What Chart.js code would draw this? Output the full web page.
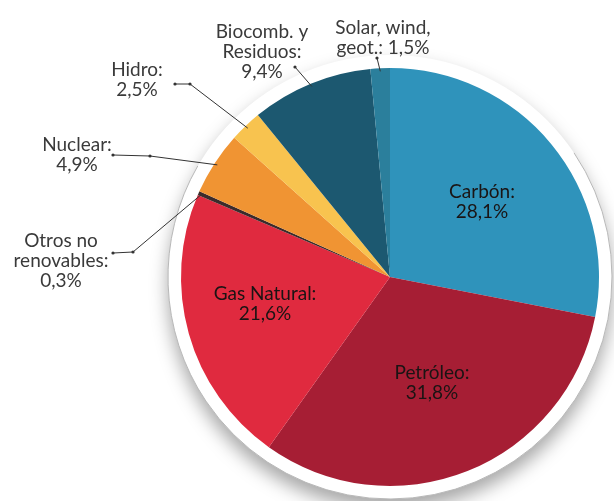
<!DOCTYPE html>
<html>
<head>
<meta charset="utf-8">
<script src="https://cdn.jsdelivr.net/npm/chart.js@4"></script>
<style>
  html, body { margin: 0; padding: 0; background: #fff; }
  #wrap { width: 614px; height: 501px; }
</style>
</head>
<body>
<div id="wrap"><canvas id="energyPie" width="614" height="501"></canvas></div>
<script>
// ── DATA ──
const categories = ['Carbón', 'Petróleo', 'Gas Natural', 'Otros no renovables', 'Nuclear', 'Hidro', 'Biocomb. y Residuos', 'Solar, wind, geot.'];
const shares     = [28.1, 31.8, 21.6, 0.3, 4.9, 2.5, 9.4, 1.5];
const nameLines  = [['Carbón:'], ['Petróleo:'], ['Gas Natural:'], ['Otros no', 'renovables:'], ['Nuclear:'], ['Hidro:'], ['Biocomb. y', 'Residuos:'], ['Solar, wind,', 'geot.:']];
const pctInline  = [false, false, false, false, false, false, false, true];

// ── STYLE ──
const sliceColors = ['#2f93bb', '#a61e34', '#e02a3f', '#3b2b2b', '#f09433', '#f8c34f', '#1c5870', '#2b7f9c'];

// label placement (text centre of first line, elbow dots of leader)
const labelLayout = [
  { x: 482, y: 192, inside: true },
  { x: 432, y: 373, inside: true },
  { x: 265, y: 294, inside: true },
  { x: 61,  y: 241, dots: [[113, 253], [133, 252]] },
  { x: 77,  y: 145, dots: [[113, 155], [150, 156]] },
  { x: 137, y: 70,  dots: [[175, 84], [190, 84]] },
  { x: 262, y: 32,  dots: [[295, 67]] },
  { x: 383, y: 28,  dots: [[377, 58]] },
];

const fmtPct = v => v.toFixed(1).replace('.', ',') + '%';

function labelTextFor(i) {
  const lines = nameLines[i].slice();
  if (pctInline[i]) lines[lines.length - 1] += ' ' + fmtPct(shares[i]);
  else lines.push(fmtPct(shares[i]));
  return lines;
}

// ── BACKING DISC WITH SHADOW ──
const discPlugin = {
  id: 'disc',
  beforeDatasetsDraw(chart) {
    const arc = chart.getDatasetMeta(0).data[0];
    if (!arc) return;
    const { x, y, outerRadius } = arc.getProps(['x', 'y', 'outerRadius'], true);
    const R = outerRadius + 13;
    const ctx = chart.ctx;
    ctx.save();
    ctx.shadowColor = 'rgba(0,0,0,0.35)';
    ctx.shadowBlur = 18;
    ctx.shadowOffsetY = 10;
    ctx.fillStyle = '#fff';
    ctx.beginPath();
    ctx.arc(x, y, R, 0, Math.PI * 2);
    ctx.fill();
    ctx.restore();

    ctx.save();
    ctx.strokeStyle = '#b8b8b8';
    ctx.lineWidth = 1;
    ctx.beginPath();
    ctx.arc(x, y, R, -34 * Math.PI / 180, 210 * Math.PI / 180);
    ctx.stroke();
    ctx.restore();
  }
};

// ── LABELS + LEADERS ──
const labelPlugin = {
  id: 'sliceLabels',
  afterDatasetsDraw(chart) {
    const ctx = chart.ctx;
    const meta = chart.getDatasetMeta(0);
    ctx.save();
    ctx.font = '19px Lato';
    ctx.textAlign = 'center';
    ctx.textBaseline = 'middle';

    meta.data.forEach((arc, i) => {
      const lay = labelLayout[i];
      const lines = labelTextFor(i);

      if (!lay.inside) {
        const p = arc.getProps(['x', 'y', 'startAngle', 'endAngle', 'outerRadius'], true);
        const mid = (p.startAngle + p.endAngle) / 2;
        const ax = p.x + Math.cos(mid) * p.outerRadius * 0.985;
        const ay = p.y + Math.sin(mid) * p.outerRadius * 0.985;

        ctx.strokeStyle = '#333';
        ctx.lineWidth = 1;
        ctx.beginPath();
        lay.dots.forEach((d, k) => k === 0 ? ctx.moveTo(d[0], d[1]) : ctx.lineTo(d[0], d[1]));
        ctx.lineTo(ax, ay);
        ctx.stroke();

        ctx.fillStyle = '#333';
        lay.dots.forEach(d => {
          ctx.beginPath();
          ctx.arc(d[0], d[1], 1.6, 0, Math.PI * 2);
          ctx.fill();
        });
      }

      ctx.fillStyle = lay.inside ? '#1a1414' : '#3a3a3a';
      lines.forEach((t, k) => ctx.fillText(t, lay.x, lay.y + k * 20));
    });
    ctx.restore();
  }
};

// ── CHART ──
new Chart(document.getElementById('energyPie').getContext('2d'), {
  type: 'pie',
  data: {
    labels: categories,
    datasets: [{
      data: shares,
      backgroundColor: sliceColors,
      borderWidth: 0,
    }]
  },
  options: {
    responsive: false,
    animation: false,
    layout: { padding: { left: 181, right: 15, top: 68, bottom: 15 } },
    plugins: {
      legend: { display: false },
      tooltip: { enabled: false }
    }
  },
  plugins: [discPlugin, labelPlugin]
});
</script>
</body>
</html>
